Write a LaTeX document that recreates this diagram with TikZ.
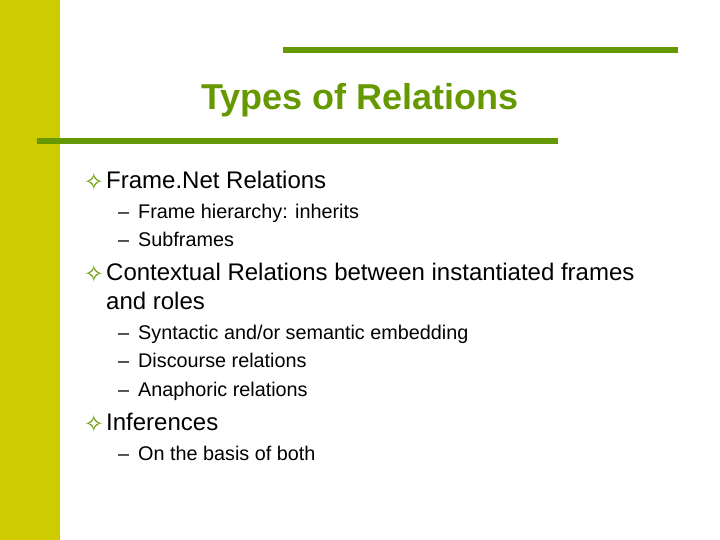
\documentclass[tikz,border=0pt]{standalone}
\usepackage{fontspec}
\setmainfont{Liberation Sans}
\newfontfamily\symfont{DejaVu Sans}
\definecolor{barcol}{RGB}{204,204,0}
\definecolor{rulecol}{RGB}{102,153,0}
\tikzset{
  lvlone/.style={anchor=west,font=\fontsize{24}{28}\selectfont,inner sep=0pt,text height=0.72em,text depth=0.2em},
  lvltwo/.style={anchor=west,font=\fontsize{19.8}{23}\selectfont,inner sep=0pt,text height=0.72em,text depth=0.2em},
  mark1/.style={anchor=center,text=rulecol,font=\symfont\fontsize{24}{28}\selectfont,inner sep=0pt},
  dashmark/.style={anchor=west,font=\fontsize{19.8}{23}\selectfont,inner sep=0pt,text height=0.72em,text depth=0.2em}
}
\begin{document}
\begin{tikzpicture}[x=1pt,y=-1pt]
  \useasboundingbox (0,0) rectangle (720,540);
  \fill[barcol] (0,0) rectangle (60,540);
  % rules
  \draw[rulecol,line width=6pt] (283,50) -- (678,50);
  \draw[rulecol,line width=6pt] (37,141) -- (558,141);
  \node (title) at (360,100) {\fontsize{36}{40}\selectfont\bfseries\color{rulecol}Types of Relations};
  % level one
  \node[mark1] (m1) at (94,182) {✧};
  \node[lvlone] (b1) at (106,186) {Frame.Net Relations};
  \node[mark1] (m2) at (94,274) {✧};
  \node[lvlone] (b2) at (106,278) {Contextual Relations between instantiated frames};
  \node[lvlone] (b2b) at (106,307) {and roles};
  \node[mark1] (m3) at (94,424) {✧};
  \node[lvlone] (b3) at (106,428) {Inferences};
  % level two
  \foreach \y/\t [count=\i] in {216/{Frame hierarchy: inherits}, 244/{Subframes},
      337/{Syntactic and{\slash}or semantic embedding}, 365/{Discourse relations},
      394/{Anaphoric relations}, 458/{On the basis of both}} {
    \node[dashmark] (d\i) at (118,\y) {–};
    \node[lvltwo] (s\i) at (138,\y) {\t};
  }
\end{tikzpicture}
\end{document}
